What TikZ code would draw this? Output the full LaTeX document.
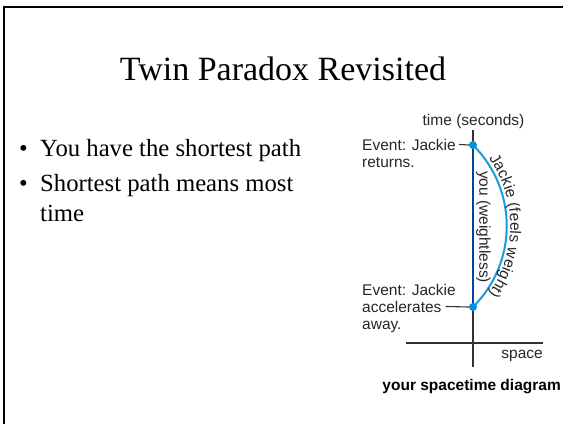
\documentclass[tikz,border=0pt]{standalone}
\usepackage{fontspec}
\setmainfont{Liberation Serif}
\newfontfamily\diagfont{Liberation Sans}
\usetikzlibrary{decorations.text}

\definecolor{worldblue}{RGB}{0,70,150}
\definecolor{pathblue}{RGB}{25,155,220}
\definecolor{dotblue}{RGB}{0,145,215}
\definecolor{axisgray}{RGB}{50,50,50}

\tikzset{
  slidetext/.style={inner sep=0pt, font=\fontsize{24.7}{29}\selectfont},
  titletext/.style={inner sep=0pt, font=\fontsize{34}{40}\selectfont},
  lbl/.style={inner sep=0pt, text=black!85, font=\diagfont\fontsize{15.5}{18}\selectfont},
  axisline/.style={draw=axisgray, line width=1.1pt},
  world/.style={draw=worldblue, line width=2.4pt},
  jack/.style={draw=pathblue, line width=2pt},
  evdot/.style={circle, fill=dotblue, inner sep=0pt, minimum size=8pt},
  tickline/.style={draw=axisgray, line width=1.1pt},
}

\begin{document}
\begin{tikzpicture}[x=1pt,y=-1pt]
  \useasboundingbox (0,0) rectangle (563,424);

  % slide frame (top and left edges)
  \draw[line width=2.2pt] (4,424) -- (4,7) -- (565,7);

  % title and bullet points
  \node[titletext, anchor=base] (title) at (283,80) {Twin Paradox Revisited};
  \node[slidetext, anchor=base west] (b1) at (19,156) {\textbullet};
  \node[slidetext, anchor=base west] (t1) at (40,156) {You have the shortest path};
  \node[slidetext, anchor=base west] (b2) at (19,191) {\textbullet};
  \node[slidetext, anchor=base west] (t2) at (40,191) {Shortest path means most};
  \node[slidetext, anchor=base west] (t3) at (40,221) {time};

  % spacetime axes
  \coordinate (ytop) at (473,130);
  \coordinate (ybot) at (473,367);
  \coordinate (xleft) at (406,343);
  \coordinate (xright) at (543,343);
  \draw[axisline] (ytop) -- (ybot);
  \draw[axisline] (xleft) -- (xright);
  \node[lbl, anchor=base] (timelbl) at (473.5,125) {time (seconds)};
  \node[lbl, anchor=base east] (spacelbl) at (543,358) {space};
  \node[lbl, anchor=base east, text=black, font=\diagfont\bfseries\fontsize{15.5}{18}\selectfont]
    (caption) at (561,390) {your spacetime diagram};

  % events
  \coordinate (evA) at (473,145);
  \coordinate (evB) at (473,307);

  % world lines
  \draw[world] (evA) -- (evB);
  \draw[jack] (evA) .. controls (518,190) and (518,262) .. (evB);
  \path[decorate, decoration={text along path, text align=center, raise=3.5pt,
      text={|\diagfont\fontsize{15.5}{18}\selectfont\color{black!85}|Jackie (feels weight)}}]
    (evA) .. controls (518,190) and (518,262) .. (evB);
  \node[lbl, rotate=-90] (youlbl) at (483.5,227) {you (weightless)};

  \node[evdot] (topdot) at (evA) {};
  \node[evdot] (botdot) at (evB) {};

  % event labels
  \node[lbl, anchor=base west] (retA) at (362,150) {Event: Jackie};
  \node[lbl, anchor=base west] (retB) at (362,167) {returns.};
  \node[lbl, anchor=base west] (accA) at (362,295) {Event: Jackie};
  \node[lbl, anchor=base west] (accB) at (362,312) {accelerates};
  \node[lbl, anchor=base west] (accC) at (362,329) {away.};
  \draw[tickline] ([xshift=3pt]retA.east) -- (topdot.west);
  \draw[tickline] ([xshift=4pt]accB.east) -- (botdot.west);
\end{tikzpicture}
\end{document}
